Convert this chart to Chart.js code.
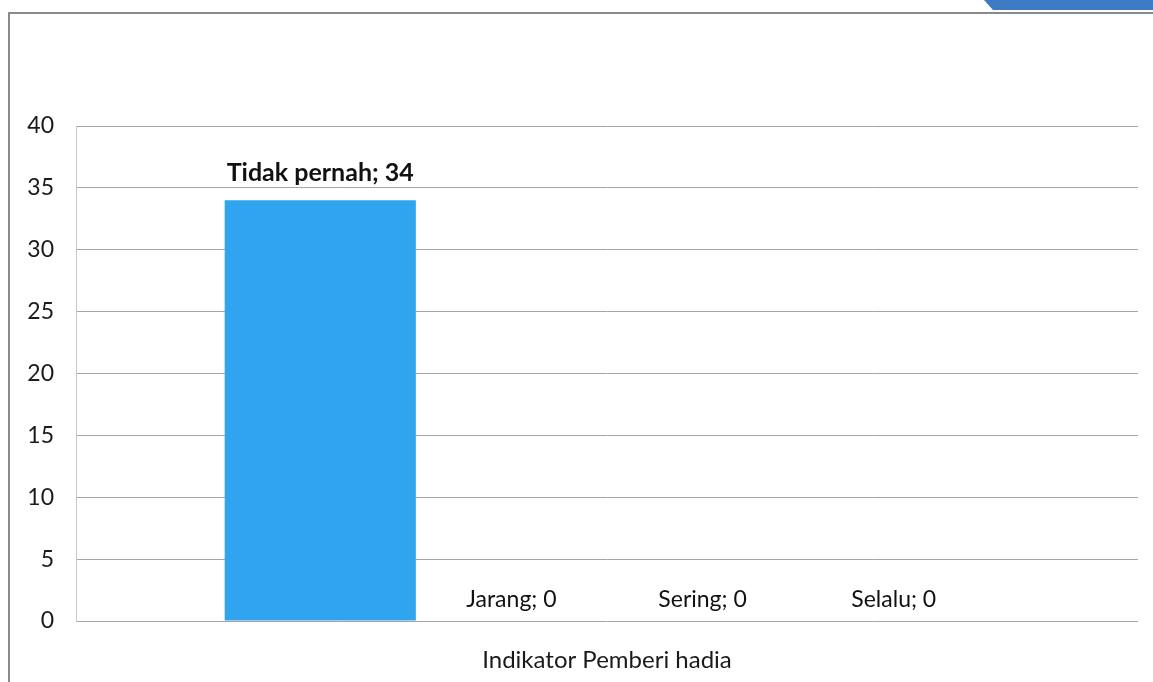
<!DOCTYPE html>
<html>
<head>
<meta charset="utf-8">
<script src="https://cdn.jsdelivr.net/npm/chart.js@4/dist/chart.umd.min.js"></script>
<style>
  html, body { margin: 0; padding: 0; background: #fff; }
  #wrap { position: relative; width: 1153px; height: 682px; overflow: hidden; }
  #frame { position: absolute; left: 8px; top: 12px; width: 1200px; height: 800px;
           border-left: 2px solid #8a8a8a; border-top: 2px solid #8a8a8a; }
  #tab { position: absolute; left: 984px; top: 0; width: 190px; height: 10px;
         background: #3d7cc4; clip-path: polygon(0 0, 100% 0, 100% 100%, 9px 100%); }
  canvas { position: absolute; left: 0; top: 0; }
</style>
</head>
<body>
<div id="wrap">
  <div id="frame"></div>
  <div id="tab"></div>
  <canvas id="c" width="1153" height="682"></canvas>
</div>
<script>
const categories = ["Indikator Pemberi hadia"];
const seriesNames = ["Tidak pernah", "Jarang", "Sering", "Selalu"];
const seriesValues = [34, 0, 0, 0];
const yTicks = [0, 5, 10, 15, 20, 25, 30, 35, 40];

const FONT = "Lato, 'Open Sans', sans-serif";

const datasets = seriesNames.map((name, i) => ({
  label: name,
  data: [seriesValues[i]],
  backgroundColor: '#30a4ee',
  borderWidth: 0,
  categoryPercentage: 0.72,
  barPercentage: 1.0
}));

const dataLabels = {
  id: 'dataLabels',
  afterDatasetsDraw(chart) {
    const ctx = chart.ctx;
    ctx.save();
    ctx.textAlign = 'center';
    ctx.textBaseline = 'middle';
    ctx.fillStyle = '#111';
    chart.data.datasets.forEach((ds, i) => {
      const meta = chart.getDatasetMeta(i);
      meta.data.forEach((bar, j) => {
        const v = ds.data[j];
        ctx.font = (i === 0 ? 'bold 25px ' : '23px ') + FONT;
        ctx.fillText(ds.label + '; ' + v, bar.x, bar.y - (i === 0 ? 27 : 21));
      });
    });
    ctx.restore();
  }
};

new Chart(document.getElementById('c'), {
  type: 'bar',
  data: { labels: categories, datasets },
  options: {
    responsive: false,
    animation: false,
    layout: { padding: { left: 0, right: 15, top: 126, bottom: 0 } },
    plugins: { legend: { display: false }, tooltip: { enabled: false }, title: { display: false } },
    scales: {
      x: {
        grid: { display: false, drawTicks: false },
        border: { display: false },
        ticks: { color: '#1a1a1a', font: { family: FONT, size: 24 }, padding: 25 },
        afterFit(s) { s.height = 61; }
      },
      y: {
        min: 0, max: 40,
        afterBuildTicks(s) { s.ticks = yTicks.map(v => ({ value: v })); },
        grid: { color: '#a6a6a6', lineWidth: 1, drawTicks: false },
        border: { display: true, color: '#c8c8c8' },
        ticks: { color: '#1a1a1a', font: { family: FONT, size: 23 }, padding: 22 },
        afterFit(s) { s.width = 76; }
      }
    }
  },
  plugins: [dataLabels]
});
</script>
</body>
</html>
